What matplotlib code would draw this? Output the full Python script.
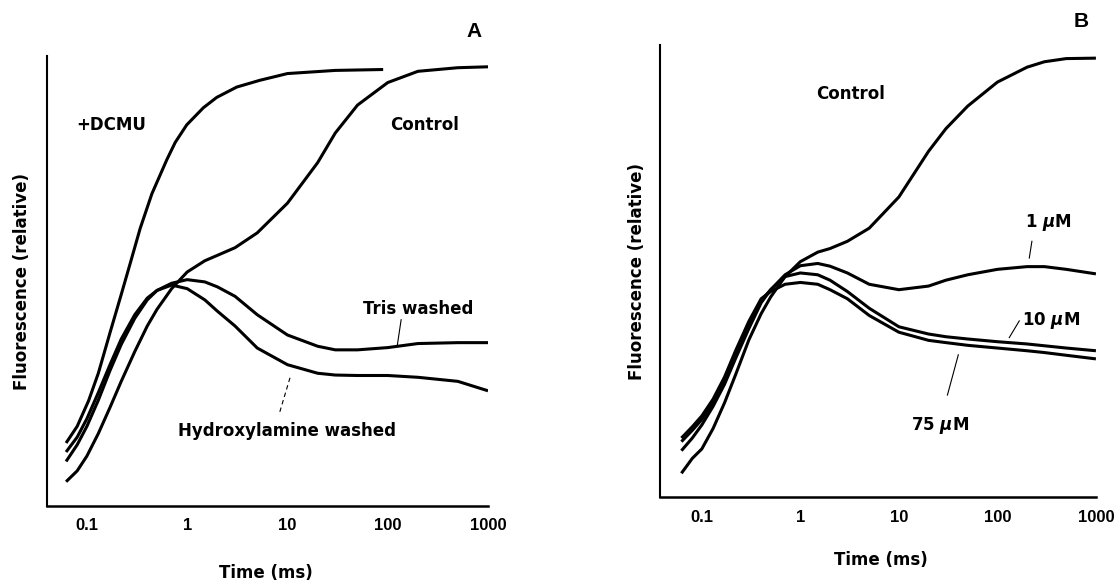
import numpy as np
import matplotlib
matplotlib.use('Agg')
import matplotlib.pyplot as plt

plt.rcParams['font.family'] = ['DejaVu Sans']
plt.rcParams['font.weight'] = 'bold'
plt.rcParams['mathtext.fontset'] = 'custom'
plt.rcParams['mathtext.rm'] = 'DejaVu Sans:bold'
plt.rcParams['mathtext.it'] = 'DejaVu Sans:italic:bold'

# Tempos (ms)
t_a = [0.062, 0.08, 0.1, 0.13, 0.17, 0.22, 0.3, 0.4, 0.5, 0.7, 1, 1.5, 2, 3, 5,
       10, 20, 30, 50, 100, 200, 500, 1000]
t_dcmu = [0.062, 0.08, 0.104, 0.13, 0.171, 0.22, 0.271, 0.34, 0.445, 0.628,
          0.76, 0.99, 1.45, 1.97, 3.12, 5.3, 10, 30, 90]

# Painel A (fluorescencia relativa, 0-100 da altura do eixo)
dcmu_a = [14.0, 17.7, 23.4, 29.5, 38.7, 47.0, 54.0, 61.7, 69.4, 77.0,
          80.8, 84.7, 88.5, 90.8, 93.1, 94.6, 96.1, 96.8, 97.0]
control_a = [5.4, 7.8, 11.1, 16.1, 21.9, 27.7, 34.3, 40.0, 43.7, 48.3, 52.0,
             54.5, 55.7, 57.4, 60.7, 67.3, 76.3, 82.9, 89.1, 94.1, 96.6, 97.4, 97.6]
tris_a = [9.9, 13.6, 17.7, 23.5, 30.1, 35.9, 41.7, 45.8, 47.9, 49.5, 50.3,
          49.8, 48.7, 46.6, 42.5, 38.0, 35.5, 34.7, 34.7, 35.2, 36.1, 36.3, 36.3]
hidrox_a = [12.0, 15.3, 19.4, 25.2, 31.4, 37.1, 42.5, 46.2, 47.9, 49.1, 48.3,
            45.8, 43.3, 40.0, 35.1, 31.4, 29.5, 29.1, 29.0, 29.0, 28.6, 27.7, 25.6]

# Painel B
t_b = [0.062, 0.08, 0.1, 0.13, 0.17, 0.22, 0.3, 0.4, 0.5, 0.7, 1, 1.5, 2, 3, 5,
       10, 20, 30, 50, 100, 200, 300, 500, 1000]
control_b = [5.3, 8.6, 10.7, 15.2, 20.9, 27.1, 34.8, 40.6, 44.3, 48.8, 52.1,
             54.2, 55.0, 56.6, 59.5, 66.4, 76.5, 81.5, 86.5, 91.8, 95.1, 96.3, 97.0, 97.1]
um1_b = [10.3, 13.1, 16.0, 20.1, 25.0, 30.7, 37.3, 43.0, 45.9, 49.2, 51.2,
         51.7, 51.1, 49.6, 47.1, 45.9, 46.7, 48.0, 49.2, 50.4, 51.0, 51.0, 50.4, 49.4]
um10_b = [12.3, 14.8, 17.2, 20.9, 25.8, 31.6, 38.1, 43.5, 45.9, 48.8, 49.6,
          49.2, 48.0, 45.5, 41.8, 37.7, 36.1, 35.5, 35.0, 34.4, 33.9, 33.5, 33.0, 32.4]
um75_b = [13.1, 15.6, 18.0, 21.7, 26.6, 32.4, 38.9, 43.9, 45.5, 47.1, 47.5,
          47.1, 45.9, 43.9, 40.2, 36.5, 34.7, 34.2, 33.6, 33.0, 32.4, 32.0, 31.4, 30.6]

tick_vals = [0.1, 1, 10, 100, 1000]
tick_labels = ['0.1', '1', '10', '100', '1000']

fig = plt.figure(figsize=(11.16, 5.81), dpi=100)
ax_a = fig.add_axes([0.0421, 0.1291, 0.3952, 0.7745])
ax_b = fig.add_axes([0.5918, 0.1441, 0.3902, 0.7784])

estilo = dict(color='black', lw=2.2, solid_capstyle='butt', solid_joinstyle='round')
fonte_txt = dict(fontsize=12, fontweight='bold', family='DejaVu Sans')


def arruma_eixo(ax, xmin):
    ax.set_xscale('log')
    ax.set_xlim(xmin, 1000)
    ax.set_ylim(0, 100)
    for lado in ['top', 'right']:
        ax.spines[lado].set_visible(False)
    ax.spines['left'].set_linewidth(1.5)
    ax.spines['bottom'].set_linewidth(1.8)
    ax.set_yticks([])
    ax.set_xticks(tick_vals)
    ax.set_xticklabels(tick_labels, family='Liberation Sans', fontweight='bold', fontsize=12)
    ax.xaxis.set_minor_locator(matplotlib.ticker.NullLocator())
    ax.tick_params(axis='x', length=0, pad=9)
    ax.set_ylabel('Fluorescence (relative)', va='center', **fonte_txt)
    ax.set_xlabel('Time (ms)', va='center', **fonte_txt)


# Painel A
ax_a.plot(t_dcmu, dcmu_a, **estilo)
ax_a.plot(t_a, control_a, **estilo)
ax_a.plot(t_a, tris_a, **estilo)
ax_a.plot(t_a, hidrox_a, **estilo)
arruma_eixo(ax_a, 0.04)
ax_a.yaxis.set_label_coords(-0.056, 0.5)
ax_a.xaxis.set_label_coords(0.497, -0.15)

ax_a.text(0.146, 0.847, '+DCMU', transform=ax_a.transAxes, ha='center', va='center', **fonte_txt)
ax_a.text(0.855, 0.847, 'Control', transform=ax_a.transAxes, ha='center', va='center', **fonte_txt)
ax_a.text(0.841, 0.437, 'Tris washed', transform=ax_a.transAxes, ha='center', va='center', **fonte_txt)
ax_a.text(0.544, 0.166, 'Hydroxylamine washed', transform=ax_a.transAxes, ha='center', va='center', **fonte_txt)
ax_a.text(0.969, 1.055, 'A', transform=ax_a.transAxes, ha='center', va='center', fontsize=15,
          fontweight='bold', family='Liberation Sans')
ax_a.plot([0.803, 0.794], [0.414, 0.355], transform=ax_a.transAxes, color='black', lw=0.8)
ax_a.plot([0.551, 0.526], [0.285, 0.203], transform=ax_a.transAxes, color='black', lw=0.8, ls=(0, (4, 3)))

# Painel B
ax_b.plot(t_b, control_b, **estilo)
ax_b.plot(t_b, um1_b, **estilo)
ax_b.plot(t_b, um10_b, **estilo)
ax_b.plot(t_b, um75_b, **estilo)
arruma_eixo(ax_b, 0.038)
ax_b.yaxis.set_label_coords(-0.054, 0.5)
ax_b.xaxis.set_label_coords(0.507, -0.139)

ax_b.text(0.437, 0.892, 'Control', transform=ax_b.transAxes, ha='center', va='center', **fonte_txt)
ax_b.text(0.890, 0.607, r'1 $\mu$M', transform=ax_b.transAxes, ha='center', va='center', **fonte_txt)
ax_b.text(0.897, 0.390, r'10 $\mu$M', transform=ax_b.transAxes, ha='center', va='center', **fonte_txt)
ax_b.text(0.643, 0.159, r'75 $\mu$M', transform=ax_b.transAxes, ha='center', va='center', **fonte_txt)
ax_b.text(0.966, 1.053, 'B', transform=ax_b.transAxes, ha='center', va='center', fontsize=15,
          fontweight='bold', family='Liberation Sans')
ax_b.plot([0.853, 0.847], [0.566, 0.529], transform=ax_b.transAxes, color='black', lw=0.8)
ax_b.plot([0.824, 0.801], [0.390, 0.353], transform=ax_b.transAxes, color='black', lw=0.8)
ax_b.plot([0.684, 0.659], [0.315, 0.226], transform=ax_b.transAxes, color='black', lw=0.8)

plt.savefig('out.png', dpi=100)
